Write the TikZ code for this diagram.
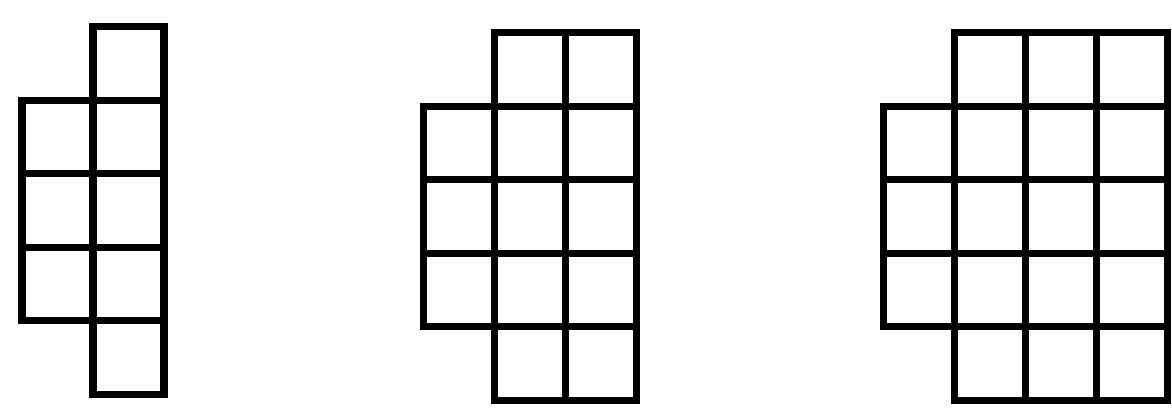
\documentclass[tikz,border=0pt]{standalone}
\usepackage{tikz}

\begin{document}
\begin{tikzpicture}[x=1.42cm, y=1.47cm,
    cell/.style={line width=4pt, line join=miter}]
  \useasboundingbox (0,0) rectangle (16.507,5.565);
  % Figur 1: 3 + 5 Kaestchen
  \begin{scope}[shift={(0.31,0.20)}]
    \foreach \r in {1,2,3} \draw[cell] (0,\r) rectangle ++(1,1);
    \foreach \r in {0,...,4} \draw[cell] (1,\r) rectangle ++(1,1);
  \end{scope}
  % Figur 2: 3 + 2*5 Kaestchen
  \begin{scope}[shift={(5.96,0.12)}]
    \foreach \r in {1,2,3} \draw[cell] (0,\r) rectangle ++(1,1);
    \foreach \c in {1,2} \foreach \r in {0,...,4} \draw[cell] (\c,\r) rectangle ++(1,1);
  \end{scope}
  % Figur 3: 3 + 3*5 Kaestchen
  \begin{scope}[shift={(12.45,0.12)}]
    \foreach \r in {1,2,3} \draw[cell] (0,\r) rectangle ++(1,1);
    \foreach \c in {1,2,3} \foreach \r in {0,...,4} \draw[cell] (\c,\r) rectangle ++(1,1);
  \end{scope}
\end{tikzpicture}
\end{document}
